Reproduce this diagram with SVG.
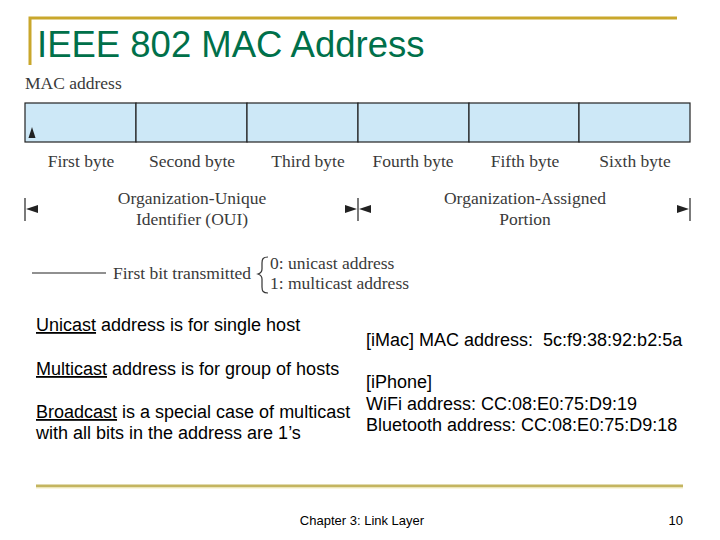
<svg xmlns="http://www.w3.org/2000/svg" width="720" height="540" viewBox="0 0 720 540">
<style>
.serif{font-family:"Liberation Serif","Times New Roman",serif;font-size:17.5px;fill:#3a3a3a}
.sans{font-family:"Liberation Sans",Arial,sans-serif;font-size:18px;fill:#000}
.cell{fill:#cde8f7;stroke:#222;stroke-width:1.2}
.tick{stroke:#222;stroke-width:1.2}
.ah{fill:#222}
</style>
<rect width="720" height="540" fill="#fff"/>
<g id="title">
<path d="M30,65 V18 H677" fill="none" stroke="#c9a72c" stroke-width="3"/>
<text x="37" y="57" font-family="Liberation Sans, Arial, sans-serif" font-size="36.5" fill="#00704a">IEEE 802 MAC Address</text>
</g>
<g id="mac-diagram">
<text class="serif" x="25" y="89">MAC address</text>
<g id="bytes">
<rect class="cell" x="25" y="103" width="111" height="39"/>
<rect class="cell" x="136" y="103" width="111" height="39"/>
<rect class="cell" x="247" y="103" width="111" height="39"/>
<rect class="cell" x="358" y="103" width="111" height="39"/>
<rect class="cell" x="469" y="103" width="110" height="39"/>
<rect class="cell" x="579" y="103" width="111" height="39"/>
<polygon class="ah" points="32,127 28.5,138 35.5,138"/>
</g>
<g id="byte-labels">
<text class="serif" x="81" y="167" text-anchor="middle">First byte</text>
<text class="serif" x="192" y="167" text-anchor="middle">Second byte</text>
<text class="serif" x="308" y="167" text-anchor="middle">Third byte</text>
<text class="serif" x="413" y="167" text-anchor="middle">Fourth byte</text>
<text class="serif" x="525" y="167" text-anchor="middle">Fifth byte</text>
<text class="serif" x="635" y="167" text-anchor="middle">Sixth byte</text>
</g>
<g id="spans">
<line class="tick" x1="25" y1="198" x2="25" y2="221"/>
<line class="tick" x1="358" y1="198" x2="358" y2="221"/>
<line class="tick" x1="690" y1="198" x2="690" y2="221"/>
<polygon class="ah" points="26,209 38,205 38,213"/>
<polygon class="ah" points="357,209 345,205 345,213"/>
<polygon class="ah" points="359,209 371,205 371,213"/>
<polygon class="ah" points="689,209 677,205 677,213"/>
<text class="serif" x="192" y="204" text-anchor="middle">Organization-Unique</text>
<text class="serif" x="192" y="225" text-anchor="middle">Identifier (OUI)</text>
<text class="serif" x="525" y="204" text-anchor="middle">Organization-Assigned</text>
<text class="serif" x="525" y="225" text-anchor="middle">Portion</text>
</g>
<g id="first-bit">
<line class="tick" x1="32" y1="273" x2="106" y2="273"/>
<text class="serif" x="113" y="279">First bit transmitted</text>
<path d="M268,257 C263,257 262,259 262,263 L262,269 C262,272 261,273 258,274 C261,275 262,276 262,279 L262,287 C262,291 263,293 268,293" fill="none" stroke="#333" stroke-width="1.2"/>
<text class="serif" x="270" y="269">0: unicast address</text>
<text class="serif" x="270" y="289">1: multicast address</text>
</g>
</g>
<g id="notes">
<text class="sans" x="36" y="331"><tspan text-decoration="underline">Unicast</tspan> address is for single host</text>
<text class="sans" x="36" y="375"><tspan text-decoration="underline">Multicast</tspan> address is for group of hosts</text>
<text class="sans" x="36" y="418"><tspan text-decoration="underline">Broadcast</tspan> is a special case of multicast</text>
<text class="sans" x="36" y="439">with all bits in the address are 1’s</text>
<text class="sans" x="366" y="346">[iMac] MAC address:&#160; 5c:f9:38:92:b2:5a</text>
<text class="sans" x="366" y="388">[iPhone]</text>
<text class="sans" x="366" y="410">WiFi address: CC:08:E0:75:D9:19</text>
<text class="sans" x="366" y="431">Bluetooth address: CC:08:E0:75:D9:18</text>
</g>
<g id="footer">
<line x1="36" y1="486" x2="683" y2="486" stroke="#c4b560" stroke-width="3"/>
<line x1="36" y1="488" x2="683" y2="488" stroke="#f5eec0" stroke-width="1"/>
<text x="362" y="525" text-anchor="middle" font-family="Liberation Sans, Arial, sans-serif" font-size="13" fill="#000">Chapter 3: Link Layer</text>
<text x="683" y="525" text-anchor="end" font-family="Liberation Sans, Arial, sans-serif" font-size="13" fill="#000">10</text>
</g>
</svg>
